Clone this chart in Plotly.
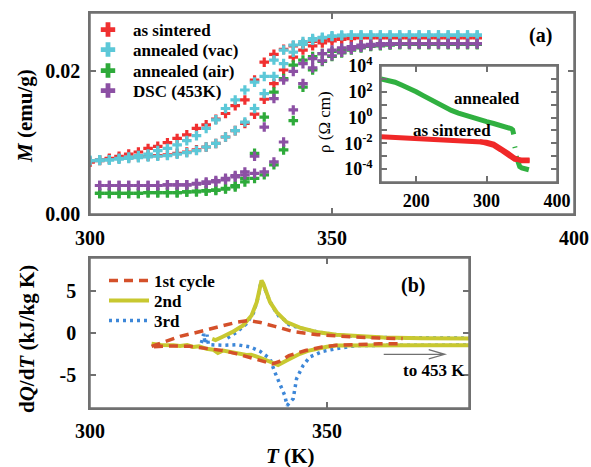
import plotly.graph_objects as go

# ---------------- Panel (a): magnetisation ----------------
T_a = list(range(300, 382, 2))          # 300 ... 380 K
T_a2 = list(range(302, 382, 2))         # 302 ... 380 K

red_cool = [0.0073,0.0076,0.0078,0.0081,0.0084,0.0087,0.0092,0.0095,0.0100,0.0106,
            0.0111,0.0120,0.0125,0.0133,0.0141,0.0152,0.0160,0.0188,0.0213,0.0224,
            0.0231,0.0236,0.0239,0.0242,0.0244,0.0246,0.0247,0.0247,0.0248,0.0248,
            0.0248,0.0248,0.0248,0.0248,0.0248,0.0248,0.0248,0.0248,0.0248,0.0248,
            0.0248]
red_heat = [0.0073,0.0075,0.0077,0.0078,0.0079,0.0080,0.0081,0.0082,0.0083,0.0085,
            0.0087,0.0090,0.0094,0.0099,0.0108,0.0117,0.0127,0.0140,0.0161,0.0183,
            0.0202,0.0220,0.0230,0.0236,0.0240,0.0243,0.0245,0.0246,0.0247,0.0247,
            0.0247,0.0247,0.0247,0.0247,0.0247,0.0247,0.0247,0.0247,0.0247,0.0247,
            0.0247]
cyan_cool = [0.0075,0.0076,0.0076,0.0078,0.0080,0.0082,0.0084,0.0089,0.0092,0.0097,
             0.0103,0.0110,0.0120,0.0132,0.0148,0.0160,0.0174,0.0185,0.0193,0.0216,
             0.0230,0.0237,0.0242,0.0246,0.0248,0.0250,0.0251,0.0251,0.0251,0.0251,
             0.0251,0.0251,0.0251,0.0251,0.0251,0.0251,0.0251,0.0251,0.0251,0.0251,
             0.0251]
cyan_heat = [0.0075,0.0075,0.0076,0.0077,0.0078,0.0079,0.0080,0.0081,0.0082,0.0084,
             0.0086,0.0089,0.0094,0.0099,0.0108,0.0117,0.0129,0.0148,0.0169,0.0193,
             0.0211,0.0227,0.0238,0.0244,0.0247,0.0249,0.0250,0.0251,0.0251,0.0251,
             0.0251,0.0251,0.0251,0.0251,0.0251,0.0251,0.0251,0.0251,0.0251,0.0251,
             0.0251]
green_cool = [0.0029,0.0029,0.0029,0.0029,0.0029,0.0030,0.0030,0.0030,0.0030,0.0031,
              0.0032,0.0033,0.0034,0.0036,0.0040,0.0050,0.0085,0.0136,0.0171,0.0190,
              0.0209,0.0216,0.0221,0.0225,0.0228,0.0231,0.0233,0.0235,0.0236,0.0237,
              0.0238,0.0238,0.0238,0.0238,0.0238,0.0238,0.0238,0.0238,0.0238,0.0238]
green_heat = [0.0029,0.0029,0.0029,0.0029,0.0029,0.0030,0.0030,0.0030,0.0030,0.0031,
              0.0031,0.0032,0.0033,0.0035,0.0038,0.0045,0.0050,0.0055,0.0069,0.0090,
              0.0131,0.0178,0.0202,0.0214,0.0221,0.0226,0.0230,0.0233,0.0235,0.0236,
              0.0237,0.0238,0.0238,0.0238,0.0238,0.0238,0.0238,0.0238,0.0238,0.0238]
purple_cool = [0.0040,0.0040,0.0040,0.0040,0.0040,0.0040,0.0040,0.0041,0.0041,0.0041,
               0.0043,0.0045,0.0047,0.0050,0.0054,0.0059,0.0081,0.0122,0.0162,0.0188,
               0.0200,0.0211,0.0218,0.0225,0.0230,0.0233,0.0235,0.0237,0.0238,0.0239,
               0.0239,0.0239,0.0239,0.0239,0.0239,0.0239,0.0239,0.0239,0.0239,0.0239]
purple_heat = [0.0040,0.0040,0.0040,0.0040,0.0040,0.0040,0.0040,0.0041,0.0041,0.0041,
               0.0042,0.0043,0.0045,0.0048,0.0052,0.0055,0.0057,0.0059,0.0073,0.0101,
               0.0146,0.0183,0.0205,0.0215,0.0222,0.0227,0.0231,0.0234,0.0236,0.0237,
               0.0238,0.0239,0.0239,0.0239,0.0239,0.0239,0.0239,0.0239,0.0239,0.0239]

# ---------------- Inset: resistivity (log10 of rho in Ohm cm) ----------------
ins_T_ann = [150,160,170,180,190,200,210,220,230,240,250,260,270,280,290,300,310,320,330,335,337,338,338.5,
             None, 340,340.5, None, 342,344,347,350,355,360]
ins_logrho_ann = [2.99,2.9,2.74,2.5,2.27,2.0,1.7,1.4,1.1,0.8,0.55,0.35,0.16,0.0,-0.17,-0.32,-0.46,-0.6,-0.76,-0.86,-0.95,-1.1,-1.3,
                  None, -2.25,-2.35, None, -3.0,-3.5,-3.8,-3.9,-4.0,-4.05]
ins_T_sint = [150,175,200,225,250,275,290,300,310,320,330,340,345,350,361,
              None, 290,300,310,320,330,336,340,350,361]
ins_logrho_sint = [-1.48,-1.55,-1.6,-1.66,-1.72,-1.8,-1.85,-1.92,-2.05,-2.35,-2.75,-3.15,-3.3,-3.35,-3.35,
                   None, -1.85,-1.97,-2.15,-2.5,-2.9,-3.1,-3.25,-3.3,-3.3]

# ---------------- Panel (b): DSC dQ/dT ----------------
c1_T = [313,316,319,322,325,328,331,333.5,336,339,343,348,352,356,361,366,
        None, 313.5,317,321,325,328,331,334,336.5,338.5,340,342,345.5,349,352,356,361,366]
c1_v = [-1.6,-1.0,-0.4,0.0,0.45,0.9,1.3,1.5,1.25,0.8,0.15,-0.2,-0.36,-0.48,-0.6,-0.67,
        None, -1.65,-1.55,-1.6,-1.85,-2.1,-2.5,-2.95,-3.35,-3.7,-3.4,-2.7,-2.1,-1.68,-1.48,-1.36,-1.3,-1.28]
c2_T = [325.8,326.5,328,330,332.3,334.1,335.2,335.9,336.2,336.6,337,338,339.4,341.5,344.3,347.8,352,356.3,362,370,380,
        None, 313,315,317.6,319,320.5,321.8,323,324.6,326,327,328.1,330,331.6,333,334,335.2,336.5,338,339.7,341.5,343,344.3,346,347.8,350,352,356,362,370,380]
c2_v = [-0.7,-0.85,-0.45,0.1,0.9,2.1,3.7,5.5,6.3,5.9,5.2,3.7,2.5,1.3,0.65,0.12,-0.2,-0.4,-0.55,-0.62,-0.67,
        None, -1.3,-1.45,-1.48,-1.55,-1.45,-1.68,-1.6,-1.9,-2.0,-2.4,-2.1,-2.35,-2.5,-2.65,-2.6,-2.9,-3.1,-3.45,-3.85,-3.3,-2.85,-2.5,-2.15,-1.9,-1.65,-1.5,-1.48,-1.48,-1.48,-1.48]
c3_T = [329,331,333,334.5,335.5,336,336.4,336.8,337.5,338.5,340,341,342,344,348,352,356,362,370,380,
        None, 323.5,324,324.3,324.7,325,327.4,328.1,331,333.8,335.9,338,339,340.1,341.1,341.6,342.9,343.6,345,346.4,349.2,352,356.3,362,370,380]
c3_v = [-0.6,0.1,1.1,2.4,4.3,5.9,6.1,5.4,4.4,3.2,1.9,1.6,1.0,0.65,0.12,-0.2,-0.4,-0.55,-0.6,-0.62,
        None, -1.2,-0.1,-1.3,-0.2,-1.4,-1.48,-1.48,-1.4,-1.68,-2.2,-3.08,-4.68,-6.28,-7.48,-8.7,-7.88,-5.48,-3.88,-2.88,-2.2,-1.88,-1.5,-1.48,-1.45,-1.45]

W, H = 591, 467
def px_x(p): return p / W
def px_y(p): return 1 - p / H

FONT = "Liberation Serif, Times New Roman, DejaVu Serif, serif"
tickfont = dict(family=FONT, size=20, color="black", weight="bold")
legfont = dict(family=FONT, size=17, color="black", weight="bold")
axcol = "#707070"

fig = go.Figure()

# legend rows (pixel centre of each row) for panel (a) and panel (b)
leg_a_rows = [30, 50, 71, 91]
leg_b_rows = [281, 301, 321]

samples = [("as sintered", "#f03030", red_cool, red_heat, T_a),
           ("annealed (vac)", "#5cc8d8", cyan_cool, cyan_heat, T_a),
           ("annealed (air)", "#2eaa3a", green_cool, green_heat, T_a2),
           ("DSC (453K)", "#8c50a4", purple_cool, purple_heat, T_a2)]
for i, (name, col, cool, heat, T) in enumerate(samples):
    fig.add_trace(go.Scatter(x=T + T, y=cool + heat, mode="markers", name=name,
                             marker=dict(symbol="cross", size=8, color=col, line=dict(width=0)),
                             xaxis="x", yaxis="y", legend="legend" if i == 0 else f"legend{i+1}"))

fig.add_trace(go.Scatter(x=ins_T_ann, y=ins_logrho_ann, mode="lines", line=dict(color="#30b040", width=5),
                         showlegend=False, xaxis="x3", yaxis="y3", connectgaps=False))
fig.add_trace(go.Scatter(x=ins_T_sint, y=ins_logrho_sint, mode="lines", line=dict(color="#f02828", width=5),
                         showlegend=False, xaxis="x3", yaxis="y3", connectgaps=False))

fig.add_trace(go.Scatter(x=c3_T, y=c3_v, mode="lines", name="3rd",
                         line=dict(color="#3d87d8", width=3.5, dash="3px,4px"),
                         xaxis="x2", yaxis="y2", legend="legend7", connectgaps=False))
fig.add_trace(go.Scatter(x=c2_T, y=c2_v, mode="lines", name="2nd",
                         line=dict(color="#c8c830", width=4),
                         xaxis="x2", yaxis="y2", legend="legend6", connectgaps=False))
fig.add_trace(go.Scatter(x=c1_T, y=c1_v, mode="lines", name="1st cycle",
                         line=dict(color="#d4502a", width=3.5, dash="9px,6px"),
                         xaxis="x2", yaxis="y2", legend="legend5", connectgaps=False))

def axstyle(**kw):
    d = dict(showline=True, linecolor=axcol, linewidth=1.5, mirror="allticks", ticks="inside",
             ticklen=6, tickcolor=axcol, tickwidth=1.5, showgrid=False, zeroline=False,
             tickfont=tickfont, automargin=False, layer="above traces")
    d.update(kw)
    return d

inset_ticktext = ["", "10<sup>-4</sup>", "", "10<sup>-2</sup>", "", "10<sup>0</sup>", "", "10<sup>2</sup>", "", "10<sup>4</sup>"]

legends = {}
for i, row in enumerate(leg_a_rows):
    key = "legend" if i == 0 else f"legend{i+1}"
    legends[key] = dict(x=px_x(83), y=px_y(row), xanchor="left", yanchor="middle",
                        bgcolor="rgba(0,0,0,0)", font=legfont, itemsizing="constant",
                        itemwidth=40)
for j, row in enumerate(leg_b_rows):
    legends[f"legend{j+5}"] = dict(x=px_x(104), y=px_y(row), xanchor="left", yanchor="middle",
                                   bgcolor="rgba(0,0,0,0)", font=legfont, itemwidth=40)

fig.update_layout(
    width=W, height=H, margin=dict(l=0, r=0, t=0, b=0, pad=0, autoexpand=False),
    paper_bgcolor="white", plot_bgcolor="rgba(0,0,0,0)",
    xaxis=axstyle(domain=[px_x(90), px_x(574)], range=[300, 400], tickvals=[300, 350, 400],
                  anchor="y", ticklabelstandoff=5),
    yaxis=axstyle(domain=[px_y(214), px_y(13)], range=[0, 0.0282], tickvals=[0, 0.02],
                  ticktext=["0.00", "0.02"], anchor="x", ticklabelstandoff=4),
    xaxis2=axstyle(domain=[px_x(90), px_x(469)], range=[300, 380], tickvals=[300, 350],
                   anchor="y2", ticklabelstandoff=4),
    yaxis2=axstyle(domain=[px_y(408), px_y(258)], range=[-9, 9], tickvals=[-5, 0, 5],
                   ticktext=["-5", "0", "5"], anchor="x2", ticklabelstandoff=8),
    xaxis3=axstyle(domain=[px_x(381), px_x(557)], range=[150, 400], tickvals=[200, 300, 400],
                   anchor="y3", ticklabelstandoff=2,
                   tickfont=dict(family=FONT, size=18, color="black", weight="bold")),
    yaxis3=axstyle(domain=[px_y(182), px_y(66)], range=[-5, 4], tickvals=list(range(-5, 5)),
                   ticktext=inset_ticktext, anchor="x3", ticklabelstandoff=3,
                   tickfont=dict(family=FONT, size=18, color="black", weight="bold")),
    showlegend=True,
    **legends,
)

# explicit panel frames
for xr, yr in [("x", "y"), ("x2", "y2"), ("x3", "y3")]:
    fig.add_shape(type="rect", xref=f"{xr} domain", yref=f"{yr} domain", x0=0, x1=1, y0=0, y1=1,
                  line=dict(color=axcol, width=1.5), fillcolor="rgba(0,0,0,0)", layer="above")

ann_font = dict(family=FONT, size=21, color="black")
def ann(text, x, y, xref="paper", yref="paper", font=ann_font, angle=0):
    fig.add_annotation(text=text, xref=xref, yref=yref, x=x, y=y, xanchor="center", yanchor="middle",
                       textangle=angle, showarrow=False, font=font)

ann("<b><i>M</i> (emu/g)</b>", px_x(25), px_y(116), angle=-90)
ann("<b>d<i>Q</i>/d<i>T</i> (kJ/kg K)</b>", px_x(27), px_y(339), angle=-90)
ann("<b><i>T</i> (K)</b>", px_x(290), px_y(456))
ann("<b>(a)</b>", 393, 0.0251, "x", "y", dict(family=FONT, size=20, color="black"))
ann("<b>(b)</b>", 368.1, 5.7, "x2", "y2", dict(family=FONT, size=20, color="black"))
ann("<b>to 453 K</b>", 372.6, -4.5, "x2", "y2", dict(family=FONT, size=17, color="black"))
ann("<b>annealed</b>", 301, 1.44, "x3", "y3", dict(family=FONT, size=17, color="black"))
ann("<b>as sintered</b>", 251, -1.04, "x3", "y3", dict(family=FONT, size=17, color="black"))
ann("ρ (Ω cm)", px_x(325), px_y(122), font=dict(family=FONT, size=17, color="black"), angle=-90)

# arrow "to 453 K"
fig.add_shape(type="path", xref="x2", yref="y2",
              path="M 362,-2.56 L 374.9,-2.56 M 371.5,-2.0 L 374.9,-2.56 L 371.5,-3.1",
              line=dict(color="#707070", width=1.2))

fig.write_html("out.html", config={"displayModeBar": False},
               post_script="document.body.style.margin='0px';")
